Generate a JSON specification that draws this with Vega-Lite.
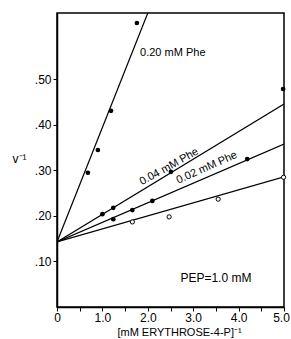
{
  "$schema": "https://vega.github.io/schema/vega-lite/v6.json",
  "width": 227,
  "height": 294,
  "autosize": {"type": "none"},
  "padding": {"left": 57, "top": 13, "right": 7, "bottom": 32},
  "background": "white",
  "config": {
    "font": "Liberation Sans",
    "view": {"stroke": "black", "strokeWidth": 1.5},
    "axis": {"domainColor": "black", "tickColor": "black", "labelColor": "black", "titleColor": "black", "grid": false, "domainWidth": 1.5}
  },
  "datasets": {
    "lines": [
      {"series": "0.20", "x": 0, "y": 0.143},
      {"series": "0.20", "x": 2.0, "y": 0.646},
      {"series": "0.04", "x": 0, "y": 0.143},
      {"series": "0.04", "x": 5.0, "y": 0.446},
      {"series": "0.02", "x": 0, "y": 0.143},
      {"series": "0.02", "x": 5.0, "y": 0.358},
      {"series": "0", "x": 0, "y": 0.143},
      {"series": "0", "x": 5.0, "y": 0.286}
    ],
    "points": [
      {"series": "0.20", "x": 0.68, "y": 0.295, "filled": true},
      {"series": "0.20", "x": 0.9, "y": 0.345, "filled": true},
      {"series": "0.20", "x": 1.19, "y": 0.431, "filled": true},
      {"series": "0.20", "x": 1.76, "y": 0.624, "filled": true},
      {"series": "0.04", "x": 1.0, "y": 0.204, "filled": true},
      {"series": "0.04", "x": 1.24, "y": 0.218, "filled": true},
      {"series": "0.04", "x": 2.51, "y": 0.297, "filled": true},
      {"series": "0.04", "x": 4.98, "y": 0.479, "filled": true},
      {"series": "0.02", "x": 1.24, "y": 0.193, "filled": true},
      {"series": "0.02", "x": 1.66, "y": 0.213, "filled": true},
      {"series": "0.02", "x": 2.1, "y": 0.233, "filled": true},
      {"series": "0.02", "x": 4.19, "y": 0.325, "filled": true},
      {"series": "0", "x": 1.66, "y": 0.187, "filled": false},
      {"series": "0", "x": 2.47, "y": 0.198, "filled": false},
      {"series": "0", "x": 3.55, "y": 0.237, "filled": false},
      {"series": "0", "x": 4.99, "y": 0.285, "filled": false}
    ],
    "labels": [
      {"id": "a", "x": 1.83, "y": 0.558, "text": "0.20 mM  Phe"},
      {"id": "b", "x": 2.47, "y": 0.308, "text": "0.04 mM  Phe"},
      {"id": "c", "x": 3.3, "y": 0.306, "text": "0.02 mM  Phe"},
      {"id": "d", "x": 3.5, "y": 0.064, "text": "PEP=1.0 mM"}
    ]
  },
  "encoding": {
    "x": {
      "field": "x", "type": "quantitative",
      "scale": {"domain": [0, 5], "nice": false, "zero": false},
      "axis": {
        "values": [0, 0.5, 1, 1.5, 2, 2.5, 3, 3.5, 4, 4.5, 5],
        "labelExpr": "datum.value == 0 ? '0' : (datum.value % 1 == 0 ? format(datum.value, '.1f') : '')",
        "labelOffset": {"condition": {"test": "datum.value == 5", "value": -3}, "value": 0},
        "tickSize": 4, "labelFontSize": 12, "labelPadding": 1, "labelFlush": false, "labelOverlap": false,
        "title": "[mM  ERYTHROSE-4-P]⁻¹", "titleFontSize": 11, "titleFontWeight": "normal",
        "titleX": 122, "titleY": 19, "titleBaseline": "top"
      }
    },
    "y": {
      "field": "y", "type": "quantitative",
      "scale": {"domain": [0, 0.646], "nice": false},
      "axis": {
        "values": [0.1, 0.2, 0.3, 0.4, 0.5],
        "labelExpr": "replace(format(datum.value, '.2f'), '0.', '.')",
        "tickSize": 4, "labelFontSize": 12, "labelPadding": 2,
        "title": "v⁻¹", "titleAngle": 0, "titleFontSize": 12, "titleFontWeight": "normal",
        "titleX": -38, "titleY": 152, "titleAlign": "center"
      }
    }
  },
  "layer": [
    {
      "data": {"name": "lines"},
      "mark": {"type": "line", "color": "black", "strokeWidth": 1.2, "clip": true},
      "encoding": {"detail": {"field": "series"}}
    },
    {
      "data": {"name": "points"},
      "transform": [{"filter": "datum.filled"}],
      "mark": {"type": "point", "shape": "circle", "filled": true, "color": "black", "size": 22, "opacity": 1}
    },
    {
      "data": {"name": "points"},
      "transform": [{"filter": "!datum.filled"}],
      "mark": {"type": "point", "shape": "circle", "filled": true, "fill": "white", "stroke": "black", "strokeWidth": 1, "size": 18, "opacity": 1}
    },
    {
      "data": {"name": "labels"},
      "transform": [{"filter": "datum.id == 'a'"}],
      "mark": {"type": "text", "align": "left", "baseline": "middle", "fontSize": 11, "color": "black"},
      "encoding": {"text": {"field": "text"}}
    },
    {
      "data": {"name": "labels"},
      "transform": [{"filter": "datum.id == 'b'"}],
      "mark": {"type": "text", "align": "center", "baseline": "middle", "fontSize": 11, "angle": -29, "color": "black"},
      "encoding": {"text": {"field": "text"}}
    },
    {
      "data": {"name": "labels"},
      "transform": [{"filter": "datum.id == 'c'"}],
      "mark": {"type": "text", "align": "center", "baseline": "middle", "fontSize": 11, "angle": -24, "color": "black"},
      "encoding": {"text": {"field": "text"}}
    },
    {
      "data": {"name": "labels"},
      "transform": [{"filter": "datum.id == 'd'"}],
      "mark": {"type": "text", "align": "center", "baseline": "middle", "fontSize": 12, "color": "black"},
      "encoding": {"text": {"field": "text"}}
    }
  ]
}
